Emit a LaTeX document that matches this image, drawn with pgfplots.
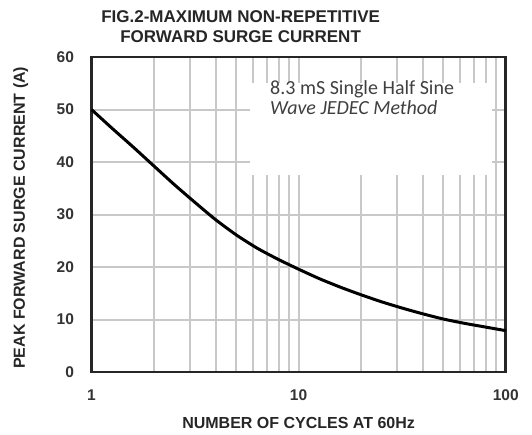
\documentclass[border=0pt]{standalone}
\usepackage{fontspec}
\setmainfont{Liberation Sans}
\newfontfamily\carlito{Carlito}
\usepackage{pgfplots}
\pgfplotsset{compat=1.18}
\definecolor{gridgray}{RGB}{200,200,200}
\begin{document}
\begin{tikzpicture}
\begin{axis}[
  scale only axis,
  width=414pt, height=315pt,
  xmode=log, xmin=1, xmax=100, ymin=0, ymax=60,
  xtick={1,10,100}, xticklabels={1,10,100},
  minor xtick={2,3,4,5,6,7,8,9,20,30,40,50,60,70,80,90},
  ytick={0,10,20,30,40,50,60},
  grid=both,
  major grid style={gridgray, line width=2pt},
  minor grid style={gridgray, line width=2pt},
  major tick length=0pt, minor tick length=0pt,
  axis line style={black!85, line width=2.6pt},
  ticklabel style={font=\fontsize{15.5}{17}\selectfont\bfseries, text=black!80},
  /pgf/number format/assume math mode=true,
  yticklabel style={xshift=-14pt},
  xticklabel style={yshift=-14pt},
  xlabel={NUMBER OF CYCLES AT 60Hz},
  ylabel={PEAK FORWARD SURGE CURRENT (A)},
  label style={font=\fontsize{16}{18}\selectfont\bfseries, text=black!85},
  xlabel style={at={(axis description cs:0.5,-0.162)}, anchor=center},
  ylabel style={at={(axis description cs:-0.171,0.49)}, anchor=center},
  clip=false,
]
\fill[white] (rel axis cs:0.383,0.625) rectangle (rel axis cs:0.967,0.917);
\node[anchor=base west, align=left, font=\carlito\fontsize{20}{20}\selectfont, text=black!75, inner sep=0pt]
  at (rel axis cs:0.431,0.816) {8.3 mS Single Half Sine\\\itshape Wave JEDEC Method};
\addplot[black, line width=3pt, smooth, tension=0.4] coordinates {
(1,50) (1.259,46.4) (1.585,42.9) (1.995,39.3) (2.512,35.7) (3.162,32.3) (3.981,29.0)
(5.012,26.1) (6.310,23.6) (7.943,21.5) (10,19.6) (12.59,17.8) (15.85,16.2) (19.95,14.75)
(25.12,13.4) (31.62,12.2) (39.81,11.1) (50.12,10.1) (63.10,9.3) (79.43,8.6) (100,7.9)
};
\node[align=center, anchor=south, font=\fontsize{17}{20}\selectfont\bfseries, text=black!85, inner sep=0pt]
  at (rel axis cs:0.36,1) [yshift=14pt] {FIG.2-MAXIMUM NON-REPETITIVE\\FORWARD SURGE CURRENT};
\end{axis}
\path ([xshift=-91.5pt,yshift=-62pt]current axis.south west) rectangle ([xshift=26.3pt,yshift=57pt]current axis.north east);
\end{tikzpicture}
\end{document}
